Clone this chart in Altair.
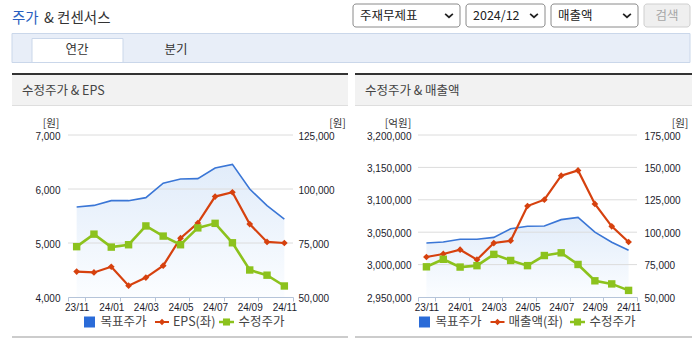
import altair as alt
import pandas as pd

# ---------------- data ----------------
months = ["23/11", "23/12", "24/01", "24/02", "24/03", "24/04", "24/05",
          "24/06", "24/07", "24/08", "24/09", "24/10", "24/11"]
label_months = ["23/11", "24/01", "24/03", "24/05", "24/07", "24/09", "24/11"]
eps = [4470, 4455, 4560, 4210, 4360, 4580, 5090, 5370, 5860, 5940, 5350, 5020, 5000]
revenue = [3011700, 3016400, 3023000, 3007600, 3033300, 3036900, 3090400,
           3100200, 3137200, 3145400, 3093700, 3059000, 3034900]
adj_price = [73300, 79100, 73100, 74200, 82900, 78200, 74200, 82000, 84100,
             75100, 62500, 60100, 55100]
target_price = [91700, 92400, 94600, 94600, 96000, 102700, 104600, 104800,
                109700, 111400, 100000, 92300, 86000]
eps_grid = [5000, 6000, 7000]
rev_grid = [3000000, 3050000, 3100000, 3150000, 3200000]

df = pd.DataFrame({"month": months, "eps": eps, "revenue": revenue,
                   "price": adj_price, "target": target_price})
one = pd.DataFrame({"k": [0]})

# ---------------- style / layout ----------------
W, H = 699, 342
YT, YB = 135, 297
KR = "Noto Sans CJK KR"
NUM = "Liberation Sans Narrow, Liberation Sans"
BLUE, RED, GREEN = "#3a76d6", "#d6410e", "#8cc21d"
LBL = "#1c1c2c"
grad = alt.Gradient(gradient="linear",
                    stops=[alt.GradientStop(color="#e1ecfa", offset=0),
                           alt.GradientStop(color="#fbfdff", offset=1)],
                    x1=1, x2=1, y1=0, y2=1)


def xe(x0, x1, show=False):
    ax = None
    if show:
        ax = alt.Axis(orient="bottom", offset=YB - H, values=label_months, tickBand="extent",
                      title=None, labelAngle=0, grid=False, domainColor="#b5c4d9",
                      tickColor="#b5c4d9", tickSize=4, labelPadding=1, labelFont=NUM,
                      labelFontSize=10, labelColor=LBL)
    return alt.X("month:O", scale=alt.Scale(type="band", domain=months, range=[x0, x1],
                                            paddingInner=0, paddingOuter=0), axis=ax)


def ye(field, dom, orient=None, offset=0, step=1, unit=None, unit_dx=0, pad=6):
    sc = alt.Scale(domain=dom, range=[YB, YT], nice=False, zero=False)
    if orient is None:
        return alt.Y(f"{field}:Q", scale=sc, axis=None)
    ax = alt.Axis(orient=orient, offset=offset, values=list(range(dom[0], dom[1] + 1, step)),
                  format=",d", grid=False, domain=False, ticks=False, tickSize=0,
                  labelPadding=pad, labelFont=NUM, labelFontSize=10, labelColor=LBL,
                  labelBaseline="middle", labelOffset=1,
                  title=unit, titleAngle=0, titleX=unit_dx, titleY=123, titleAlign="center",
                  titleBaseline="middle", titleFont=KR, titleFontSize=10.5,
                  titleFontWeight="normal", titleColor="#333333")
    return alt.Y(f"{field}:Q", scale=sc, axis=ax)


def rect(x, x2, y, y2, **kw):
    return alt.Chart(one).mark_rect(**kw).encode(
        x=alt.value(x), x2=alt.value(x2), y=alt.value(y), y2=alt.value(y2))


def text(s, x, y, size=13, color="#333333", align="left", **kw):
    return alt.Chart(one).mark_text(text=s, font=KR, fontSize=size, color=color, align=align,
                                    baseline="middle", **kw).encode(x=alt.value(x), y=alt.value(y))


def hline(x, x2, y, color, w):
    return alt.Chart(one).mark_rule(color=color, strokeWidth=w).encode(
        x=alt.value(x), x2=alt.value(x2), y=alt.value(y))


def sym(x, y, shape, color, size, filled=True, sw=1):
    return alt.Chart(one).mark_point(shape=shape, filled=filled, color=color, size=size,
                                     strokeWidth=sw, opacity=1).encode(x=alt.value(x), y=alt.value(y))


def panel(px0, px1, x0, x1, title, left_field, left_dom, left_step, left_unit, left_cx, left_pad,
          right_dom, right_step, right_cx, right_pad, grid_vals, red_label, leg):
    base = alt.Chart(df)
    layers = []
    # panel frame
    layers.append(rect(px0, px1, 75, 105, color="#f2f2f2"))
    layers.append(rect(px0, px1, 73, 75, color="#333333"))
    layers.append(hline(px0, px1, 105.5, "#dedede", 1))
    layers.append(rect(px0, px1, 336, 338, color="#cccccc"))
    layers.append(text(title, px0 + 10, 90.5, size=12.5, color="#444444"))
    # chart
    layers.append(base.mark_area(color=grad).encode(
        x=xe(x0, x1), y=ye("target", right_dom), y2=alt.datum(right_dom[0])))
    layers.append(alt.Chart(pd.DataFrame({"g": grid_vals})).mark_rule(
        color="#dcdcdc", strokeWidth=1).encode(
        y=ye("g", left_dom), x=alt.value(x0), x2=alt.value(x1)))
    layers.append(base.mark_line(color=BLUE, strokeWidth=1.6).encode(
        x=xe(x0, x1), y=ye("target", right_dom)))
    layers.append(base.mark_line(
        color=RED, strokeWidth=2.2,
        point=alt.OverlayMarkDef(shape="diamond", size=45, filled=True, color=RED, opacity=1)).encode(
        x=xe(x0, x1, True),
        y=ye(left_field, left_dom, "left", -x0, left_step, left_unit, left_cx - x0, left_pad)))
    layers.append(base.mark_line(
        color=GREEN, strokeWidth=2.6,
        point=alt.OverlayMarkDef(shape="square", size=55, filled=True, color=GREEN, opacity=1)).encode(
        x=xe(x0, x1),
        y=ye("price", right_dom, "right", x1 - W, right_step, "[원]", right_cx - x1, right_pad)))
    # legend
    ly = 322
    b, r, g = leg
    layers.append(rect(b - 5.5, b + 5.5, ly - 5.5, ly + 5.5, color="#2a6bd8"))
    layers.append(text("목표주가", b + 11, ly, size=12.5, color="#444444"))
    layers.append(hline(r - 7, r + 7, ly, RED, 2))
    layers.append(sym(r, ly, "diamond", RED, 40))
    layers.append(text(red_label, r + 11, ly, size=12.5, color="#444444"))
    layers.append(hline(g - 7.5, g + 7.5, ly, GREEN, 2.5))
    layers.append(sym(g, ly, "square", GREEN, 50))
    layers.append(text("수정주가", g + 12, ly, size=12.5, color="#444444"))
    return layers


layers = []
# ---------- page header ----------
layers.append(text("주가", 12, 19, size=14.5, color="#2a5fc0"))
layers.append(text("& 컨센서스", 44, 19, size=14.5, color="#333333"))
chev = "M-1,-0.45L0,0.45L1,-0.45"
for (bx0, bx1, lab) in [(353, 460, "주재무제표"), (466, 545, "2024/12"), (551, 638, "매출액")]:
    layers.append(rect(bx0, bx1, 4, 27, color="white", stroke="#8a8a8a", strokeWidth=1, cornerRadius=3))
    layers.append(text(lab, bx0 + 7, 16, size=12.5, color="#222222"))
    layers.append(alt.Chart(one).mark_point(shape=chev, filled=False, color="#222222", size=60,
                                            strokeWidth=1.7, opacity=1).encode(
        x=alt.value(bx1 - 11), y=alt.value(15.5)))
layers.append(rect(644, 690, 4, 27, color="#efefef", stroke="#cfcfcf", strokeWidth=1, cornerRadius=3))
layers.append(text("검색", 667, 16, size=12.5, color="#a6a6a6", align="center"))
# tabs
layers.append(rect(12, 690, 33.5, 62.5, color="#e8eef8", stroke="#cad7ea", strokeWidth=1))
layers.append(rect(32, 123, 38.5, 62.5, color="white", stroke="#cad7ea", strokeWidth=1))
layers.append(text("연간", 77, 50, size=12.5, color="#333333", align="center"))
layers.append(text("분기", 176, 50, size=12.5, color="#333333", align="center"))

# ---------- panels ----------
layers += panel(12, 348, 68, 293, "수정주가 & EPS", "eps", [4000, 7000], 1000, "[원]", 50.5, 8,
                [50000, 125000], 25000, 337, 5, eps_grid, "EPS(좌)", (89.5, 162, 226.5))
layers += panel(355, 692, 418, 637, "수정주가 & 매출액", "revenue", [2950000, 3200000], 50000,
                "[억원]", 397.5, 7, [50000, 175000], 25000, 679.5, 7, rev_grid, "매출액(좌)",
                (424.5, 497.5, 577.5))

chart = alt.layer(*layers).resolve_scale(x="independent", y="independent").properties(
    width=W, height=H, autosize=alt.AutoSizeParams(type="none"), padding=0
).configure_view(stroke=None)

chart.save("out.html", embed_options={"renderer": "svg", "actions": False})
